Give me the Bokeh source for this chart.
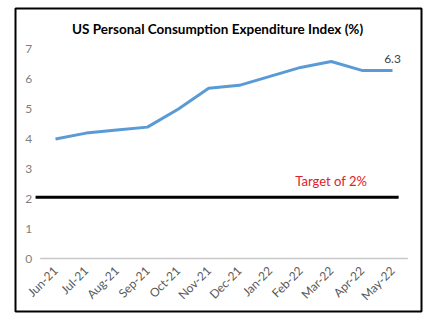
from bokeh.plotting import figure
from bokeh.models import Label, Range1d, FixedTicker, LinearAxis
from bokeh.embed import file_html
from bokeh.resources import INLINE

months = ["Jun-21", "Jul-21", "Aug-21", "Sep-21", "Oct-21", "Nov-21",
          "Dec-21", "Jan-22", "Feb-22", "Mar-22", "Apr-22", "May-22"]
pce = [4.0, 4.2, 4.3, 4.4, 5.0, 5.7, 5.8, 6.1, 6.4, 6.6, 6.3, 6.3]
target = 2.05
target_label = "Target of 2%"
title_text = "US Personal Consumption Expenditure Index (%)"
y_ticks = [0, 1, 2, 3, 4, 5, 6, 7]

FONT = "Lato"
idx = list(range(len(months)))
x_lo, x_hi = idx[0] - 0.5, idx[-1] + 0.5

p = figure(frame_width=406, frame_height=303, output_backend="svg", toolbar_location=None,
           x_range=Range1d(-1.305, 11.946), y_range=Range1d(-1.775, 8.373),
           x_axis_location=None, y_axis_location=None,
           min_border_left=15, min_border_right=15, min_border_top=8,
           min_border_bottom=10)
p.background_fill_color = "white"
p.border_fill_color = "white"
p.outline_line_color = "#000000"
p.outline_line_width = 2
p.grid.visible = False

# baseline of the plot area
p.line([x_lo, x_hi], [0, 0], line_color="#c8c8c8", line_width=1.3)
p.line(idx, pce, line_color="#5b9bd5", line_width=3)
p.line([-0.65, 11.2], [target, target], line_color="#000000", line_width=3)

p.add_layout(Label(x=5.29, y=7.7, text=title_text, text_align="center",
                   text_baseline="middle", text_font=FONT, text_font_style="bold",
                   text_font_size="13.5px", text_color="#000000"))
p.add_layout(Label(x=idx[-1], y=pce[-1], text=f"{pce[-1]}", text_align="center",
                   text_baseline="middle", y_offset=11, text_font=FONT,
                   text_font_size="12px", text_color="#404040"))
p.add_layout(Label(x=9.0, y=2.6, text=target_label, text_align="center",
                   text_baseline="middle", text_font=FONT,
                   text_font_size="13px", text_color="#e0202a"))

yax = LinearAxis(ticker=FixedTicker(ticks=y_ticks), fixed_location=x_lo)
yax.axis_line_color = None
yax.major_tick_line_color = None
yax.minor_tick_line_color = None
yax.major_tick_out = 0
yax.major_tick_in = 0
yax.major_label_text_color = "#7f7f7f"
yax.major_label_text_font = FONT
yax.major_label_text_font_size = "12px"
yax.major_label_standoff = 8
p.add_layout(yax, "left")

xax = LinearAxis(ticker=FixedTicker(ticks=idx), fixed_location=0)
xax.major_label_overrides = {i: m for i, m in zip(idx, months)}
xax.major_label_orientation = 0.785
xax.axis_line_color = None
xax.major_tick_line_color = None
xax.minor_tick_line_color = None
xax.major_tick_out = 0
xax.major_tick_in = 0
xax.major_label_text_color = "#595959"
xax.major_label_text_font = FONT
xax.major_label_text_font_size = "12px"
xax.major_label_standoff = 10
p.add_layout(xax, "below")

open("out.html", "w").write(file_html(p, INLINE))
